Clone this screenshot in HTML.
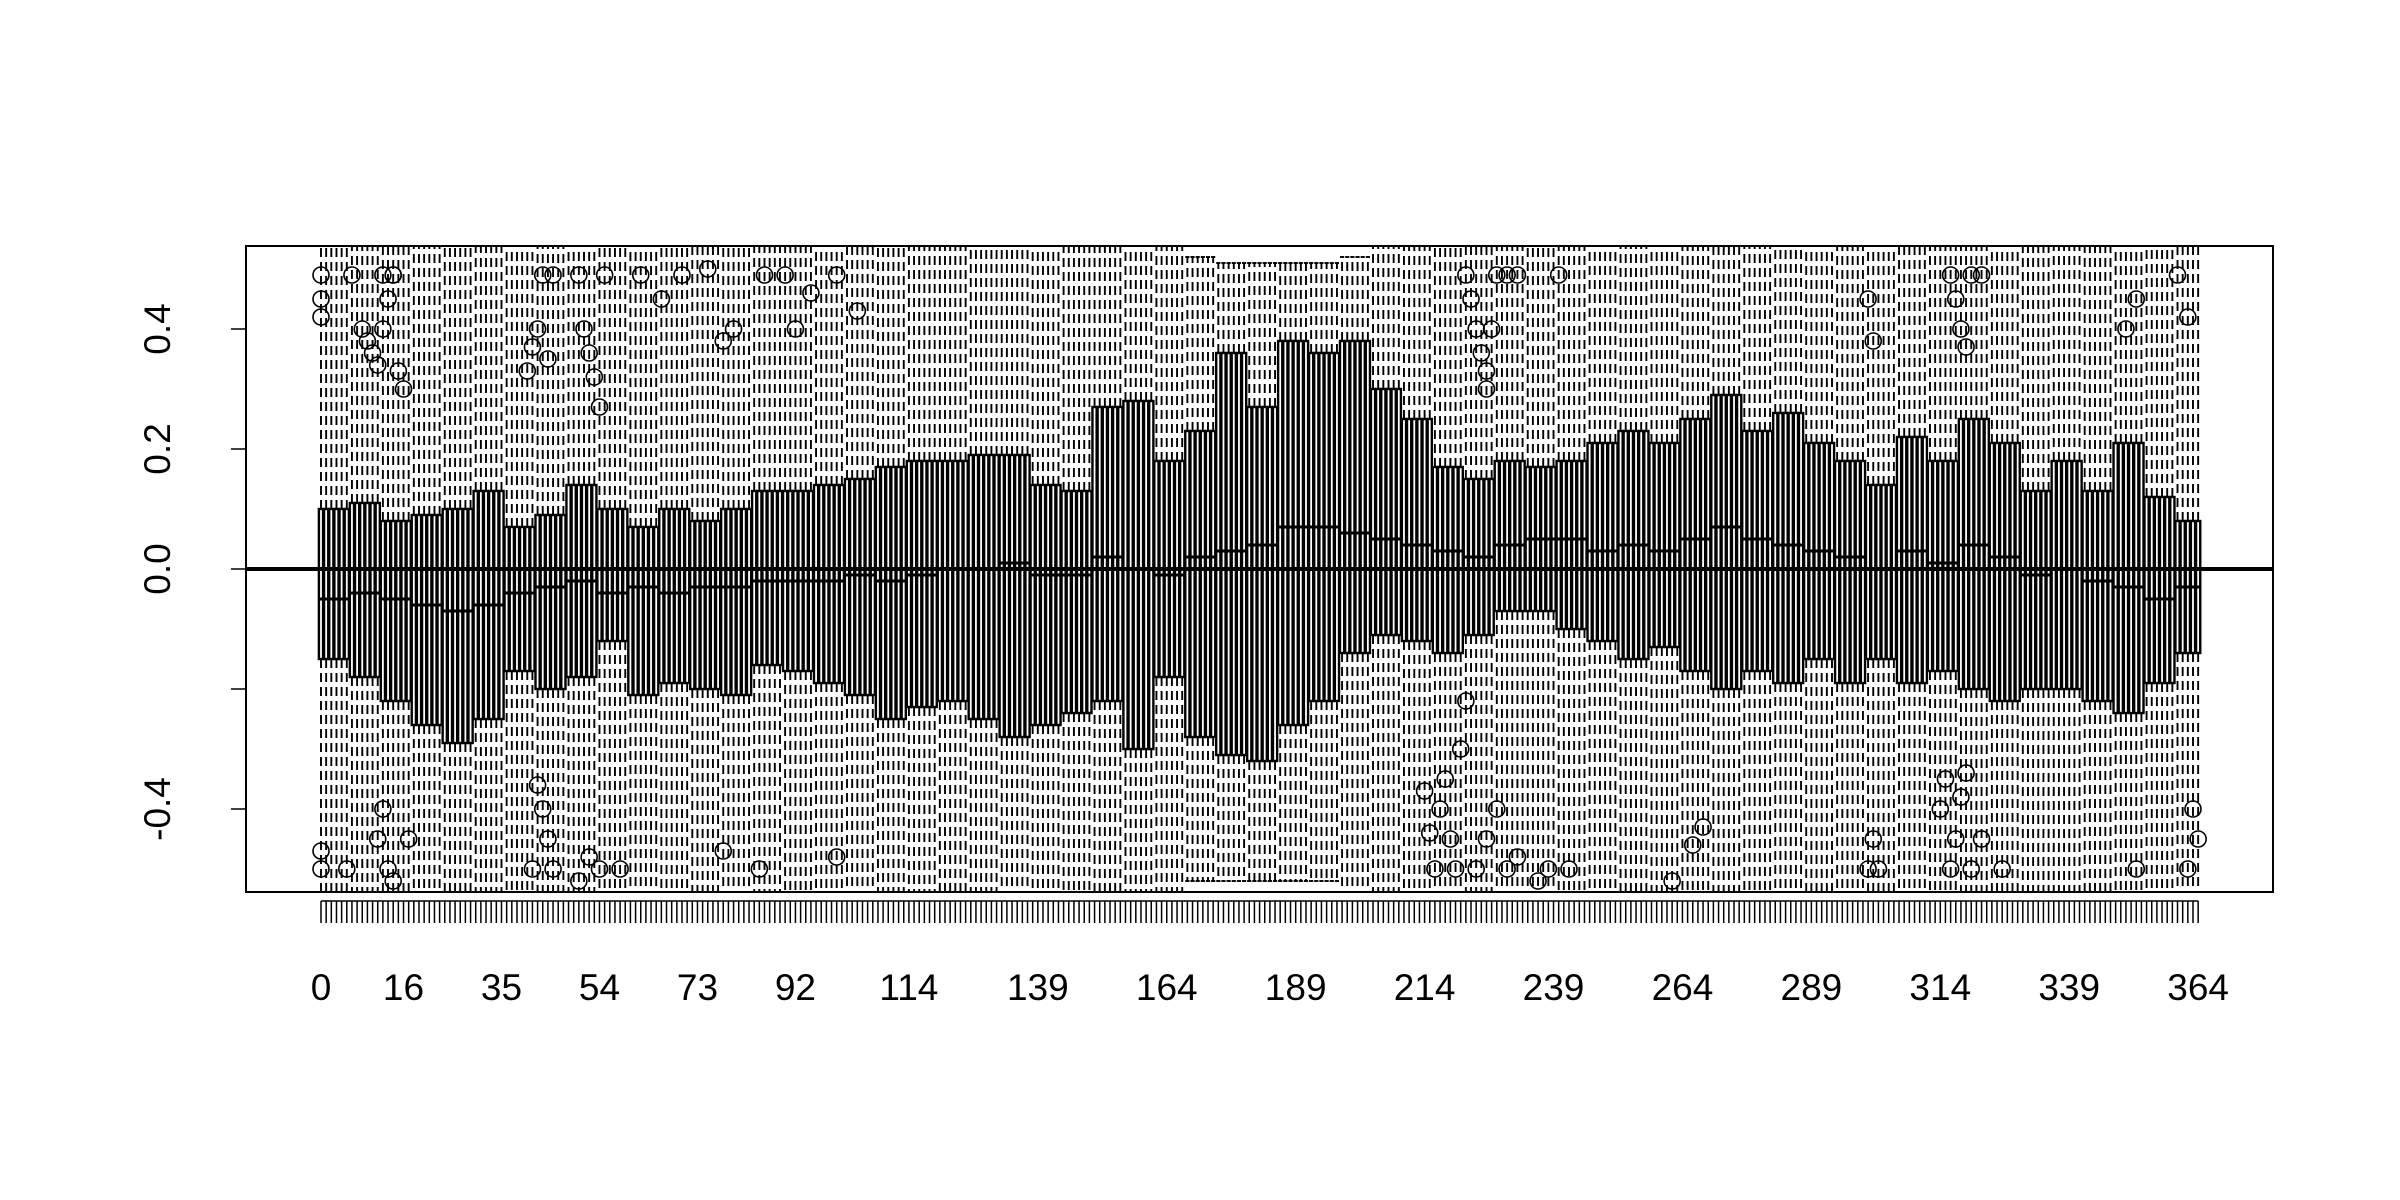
<!DOCTYPE html>
<html><head><meta charset="utf-8"><style>
html,body{margin:0;padding:0;background:#fff;}
svg{display:block;font-family:"Liberation Sans",Arial,sans-serif;}
</style></head><body>
<svg id="chart" width="2400" height="1200" viewBox="0 0 2400 1200" xmlns="http://www.w3.org/2000/svg">
<defs><clipPath id="plotclip"><rect x="246" y="246" width="2027" height="646"/></clipPath></defs>
<rect width="2400" height="1200" fill="#fff"/>
<g id="boxes" clip-path="url(#plotclip)"></g>
<g id="axes"></g>
</svg>
<script>
// Binned box statistics (one value per 6 days, day 0..365)
const binSize = 6;
const q3Bins = [0.10,0.11,0.08,0.09,0.10,0.13,0.07,0.09,0.14,0.10,0.07,0.10,0.08,0.10,0.13,0.13,0.14,0.15,0.17,0.18,0.18,0.19,0.19,0.14,0.13,0.27,0.28,0.18,0.23,0.36,0.27,0.38,0.36,0.38,0.30,0.25,0.17,0.15,0.18,0.17,0.18,0.21,0.23,0.21,0.25,0.29,0.23,0.26,0.21,0.18,0.14,0.22,0.18,0.25,0.21,0.13,0.18,0.13,0.21,0.12,0.08,0.14];
const q1Bins = [-0.15,-0.18,-0.22,-0.26,-0.29,-0.25,-0.17,-0.20,-0.18,-0.12,-0.21,-0.19,-0.20,-0.21,-0.16,-0.17,-0.19,-0.21,-0.25,-0.23,-0.22,-0.25,-0.28,-0.26,-0.24,-0.22,-0.30,-0.18,-0.28,-0.31,-0.32,-0.26,-0.22,-0.14,-0.11,-0.12,-0.14,-0.11,-0.07,-0.07,-0.10,-0.12,-0.15,-0.13,-0.17,-0.20,-0.17,-0.19,-0.15,-0.19,-0.15,-0.19,-0.17,-0.20,-0.22,-0.20,-0.20,-0.22,-0.24,-0.19,-0.14,-0.17];
const medBins = [-0.05,-0.04,-0.05,-0.06,-0.07,-0.06,-0.04,-0.03,-0.02,-0.04,-0.03,-0.04,-0.03,-0.03,-0.02,-0.02,-0.02,-0.01,-0.02,-0.01,0.00,0.00,0.01,-0.01,-0.01,0.02,0.00,-0.01,0.02,0.03,0.04,0.07,0.07,0.06,0.05,0.04,0.03,0.02,0.04,0.05,0.05,0.03,0.04,0.03,0.05,0.07,0.05,0.04,0.03,0.02,0.00,0.03,0.01,0.04,0.02,-0.01,0.00,-0.02,-0.03,-0.05,-0.03,-0.02];
const whiskHiBins = [0.6,0.6,0.6,0.6,0.6,0.6,0.6,0.6,0.6,0.6,0.6,0.6,0.6,0.6,0.6,0.6,0.6,0.6,0.6,0.6,0.6,0.6,0.6,0.6,0.6,0.6,0.6,0.6,0.52,0.51,0.51,0.51,0.51,0.52,0.6,0.6,0.6,0.6,0.6,0.6,0.6,0.6,0.6,0.6,0.6,0.6,0.6,0.6,0.6,0.6,0.6,0.6,0.6,0.6,0.6,0.6,0.6,0.6,0.6,0.6,0.6,0.6];
const whiskLoBins = [-0.6,-0.6,-0.6,-0.6,-0.6,-0.6,-0.6,-0.6,-0.6,-0.6,-0.6,-0.6,-0.6,-0.6,-0.6,-0.6,-0.6,-0.6,-0.6,-0.6,-0.6,-0.6,-0.6,-0.6,-0.6,-0.6,-0.6,-0.6,-0.52,-0.52,-0.52,-0.52,-0.52,-0.6,-0.6,-0.6,-0.6,-0.6,-0.6,-0.6,-0.6,-0.6,-0.6,-0.6,-0.6,-0.6,-0.6,-0.6,-0.6,-0.6,-0.6,-0.6,-0.6,-0.6,-0.6,-0.6,-0.6,-0.6,-0.6,-0.6,-0.6,-0.6];
const outDays = [0,0,0,6,8,9,10,11,12,13,14,15,16,12,14,40,41,42,43,44,45,50,51,52,53,54,55,62,66,70,75,78,80,86,90,92,95,100,104,222,223,224,225,226,226,227,228,230,232,240,300,301,316,317,318,319,320,322,350,352,360,362,0,0,5,11,12,13,14,17,41,42,43,44,45,50,52,54,58,78,85,100,214,215,216,217,218,219,220,221,222,224,226,228,230,232,236,238,242,262,266,268,300,301,302,314,315,316,317,318,319,320,322,326,352,362,363,364];
const outVals = [0.42,0.45,0.49,0.49,0.40,0.38,0.36,0.34,0.40,0.45,0.49,0.33,0.30,0.49,0.49,0.33,0.37,0.40,0.49,0.35,0.49,0.49,0.40,0.36,0.32,0.27,0.49,0.49,0.45,0.49,0.50,0.38,0.40,0.49,0.49,0.40,0.46,0.49,0.43,0.49,0.45,0.40,0.36,0.33,0.30,0.40,0.49,0.49,0.49,0.49,0.45,0.38,0.49,0.45,0.40,0.37,0.49,0.49,0.40,0.45,0.49,0.42,-0.47,-0.50,-0.50,-0.45,-0.40,-0.50,-0.52,-0.45,-0.50,-0.36,-0.40,-0.45,-0.50,-0.52,-0.48,-0.50,-0.50,-0.47,-0.50,-0.48,-0.37,-0.44,-0.50,-0.40,-0.35,-0.45,-0.50,-0.30,-0.22,-0.50,-0.45,-0.40,-0.50,-0.48,-0.52,-0.50,-0.50,-0.52,-0.46,-0.43,-0.50,-0.45,-0.50,-0.40,-0.35,-0.50,-0.45,-0.38,-0.34,-0.50,-0.45,-0.50,-0.50,-0.50,-0.40,-0.45,-0.50];
const xTickLabels = ["0","16","35","54","73","92","114","139","164","189","214","239","264","289","314","339","364"];
const yTickValues = [-0.4,-0.2,0.0,0.2,0.4];
const yTickLabels = ["-0.4","","0.0","0.2","0.4"];
const nDays = 365;

const NS = "http://www.w3.org/2000/svg";
const xScale = d => 321 + d * 5.157;
const yScale = v => 569 - v * 600;
function mk(tag, attrs, parent){const e=document.createElementNS(NS,tag);for(const k in attrs)e.setAttribute(k,attrs[k]);parent.appendChild(e);return e;}
const gB = document.getElementById('boxes');
const gA = document.getElementById('axes');
const bw = 2.1;
for(let d=0; d<nDays; d++){
  const b = Math.floor(d/binSize);
  const q1=q1Bins[b], q3=q3Bins[b], md=medBins[b], wh=whiskHiBins[b], wl=whiskLoBins[b];
  const x = xScale(d);
  const g = mk('g',{},gB);
  
  
  mk('line',{x1:x,x2:x,y1:yScale(q3),y2:yScale(wh),stroke:'#000','stroke-width':1.9,'stroke-dasharray':'9,5'},g);
  mk('line',{x1:x,x2:x,y1:yScale(q1),y2:yScale(wl),stroke:'#000','stroke-width':1.9,'stroke-dasharray':'9,5'},g);
  mk('line',{x1:x-bw,x2:x+bw,y1:yScale(wh),y2:yScale(wh),stroke:'#000','stroke-width':1.9},g);
  mk('line',{x1:x-bw,x2:x+bw,y1:yScale(wl),y2:yScale(wl),stroke:'#000','stroke-width':1.9},g);
  mk('rect',{x:x-bw,y:yScale(q3),width:bw*2,height:yScale(q1)-yScale(q3),fill:'#fff',stroke:'#000','stroke-width':2.4},g);
  mk('line',{x1:x-bw,x2:x+bw,y1:yScale(md),y2:yScale(md),stroke:'#000','stroke-width':3},g);
}
for(let i=0;i<outDays.length;i++){
  const c = mk('circle',{cx:xScale(outDays[i]),cy:yScale(outVals[i]),r:8,fill:'none',stroke:'#000','stroke-width':1.6},gB);
  
  
}
const zl = mk('line',{x1:246,x2:2273,y1:yScale(0),y2:yScale(0),stroke:'#000','stroke-width':4},gB);


const frame = mk('rect',{x:246,y:246,width:2027,height:646,fill:'none',stroke:'#000','stroke-width':2},gA);


// x axis
const xa = mk('line',{x1:xScale(0),x2:xScale(nDays-1),y1:901,y2:901,stroke:'#000','stroke-width':1.5},gA);


for(let d=0; d<nDays; d++){
  mk('line',{x1:xScale(d),x2:xScale(d),y1:901,y2:923,stroke:'#000','stroke-width':1.5},gA);
}
for(const lab of xTickLabels){
  const t = mk('text',{x:xScale(+lab),y:1000,'text-anchor':'middle','font-size':37,fill:'#000'},gA);
  t.textContent = lab;
  
  
}
// y axis
const ya = mk('line',{x1:246,x2:246,y1:yScale(0.4),y2:yScale(-0.4),stroke:'#000','stroke-width':1.5},gA);


for(let i=0;i<yTickValues.length;i++){
  const y = yScale(yTickValues[i]);
  mk('line',{x1:231,x2:246,y1:y,y2:y,stroke:'#000','stroke-width':1.5},gA);
  if(yTickLabels[i]){
    const t = mk('text',{x:0,y:0,transform:`translate(170,${y}) rotate(-90)`,'text-anchor':'middle','font-size':37,fill:'#000'},gA);
    t.textContent = yTickLabels[i];
    
    
  }
}
</script>
</body></html>
